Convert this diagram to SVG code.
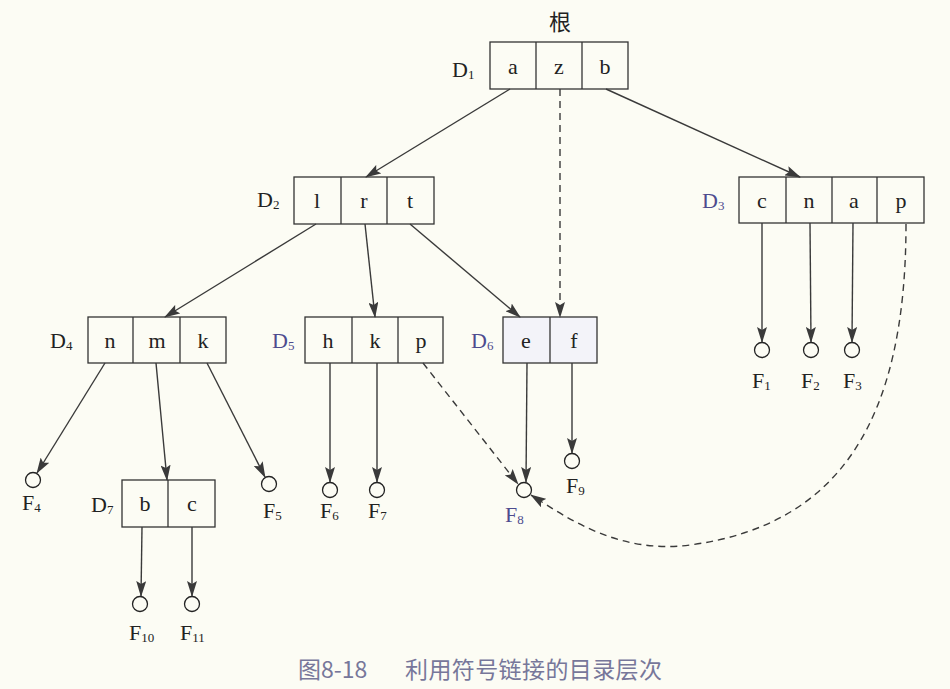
<svg xmlns="http://www.w3.org/2000/svg" width="950" height="689" viewBox="0 0 950 689">
<style>
.box{fill:none;stroke:#333;stroke-width:1.3}
.cell{font-family:"Liberation Serif",serif;font-size:22px;fill:#222;text-anchor:middle}
.lbl{font-family:"Liberation Serif",serif;font-size:22px;fill:#222}
.blue{fill:#4d4b8e}
.sub{font-size:13px}
.ln{stroke:#3a3a3a;stroke-width:1.4;fill:none;marker-end:url(#ah)}
.dash{stroke-dasharray:7,5}
.file{fill:none;stroke:#222;stroke-width:1.3}
.cap{font-family:"Noto Sans CJK SC",sans-serif;font-size:23px;fill:#77779a}
</style>
<defs>
<marker id="ah" viewBox="0 0 16 10" refX="15" refY="5" markerWidth="16" markerHeight="10" markerUnits="userSpaceOnUse" orient="auto">
<path d="M0,0 L16,5 L0,10 L3,5 Z" fill="#3a3a3a"/>
</marker>
</defs>
<rect width="950" height="689" fill="#fcfcf4"/>

<g id="root-label"><text x="560" y="30" text-anchor="middle" font-family="Noto Sans CJK SC,sans-serif" font-size="22" fill="#222">根</text></g>

<g id="D1">
<rect class="box" x="490" y="42" width="138" height="47"/>
<line class="box" x1="536" y1="42" x2="536" y2="89"/><line class="box" x1="582" y1="42" x2="582" y2="89"/>
<text class="cell" x="513" y="74">a</text><text class="cell" x="559" y="74">z</text><text class="cell" x="605" y="74">b</text>
<text class="lbl" x="452" y="77">D<tspan class="sub" dy="2">1</tspan></text>
</g>

<g id="D2">
<rect class="box" x="294" y="177" width="140" height="47"/>
<line class="box" x1="341" y1="177" x2="341" y2="224"/><line class="box" x1="387" y1="177" x2="387" y2="224"/>
<text class="cell" x="317" y="208">l</text><text class="cell" x="364" y="208">r</text><text class="cell" x="410" y="208">t</text>
<text class="lbl" x="257" y="207">D<tspan class="sub" dy="2">2</tspan></text>
</g>

<g id="D3">
<rect class="box" x="739" y="177" width="185" height="46"/>
<line class="box" x1="786" y1="177" x2="786" y2="223"/><line class="box" x1="832" y1="177" x2="832" y2="223"/><line class="box" x1="877" y1="177" x2="877" y2="223"/>
<text class="cell" x="762" y="208">c</text><text class="cell" x="809" y="208">n</text><text class="cell" x="854" y="208">a</text><text class="cell" x="901" y="208">p</text>
<text class="lbl blue" x="702" y="208">D<tspan class="sub" dy="2">3</tspan></text>
</g>

<g id="D4">
<rect class="box" x="88" y="317" width="138" height="46"/>
<line class="box" x1="133" y1="317" x2="133" y2="363"/><line class="box" x1="180" y1="317" x2="180" y2="363"/>
<text class="cell" x="110" y="348">n</text><text class="cell" x="157" y="348">m</text><text class="cell" x="203" y="348">k</text>
<text class="lbl" x="50" y="348">D<tspan class="sub" dy="2">4</tspan></text>
</g>

<g id="D5">
<rect class="box" x="305" y="317" width="138" height="46"/>
<line class="box" x1="352" y1="317" x2="352" y2="363"/><line class="box" x1="398" y1="317" x2="398" y2="363"/>
<text class="cell" x="328" y="348">h</text><text class="cell" x="375" y="348">k</text><text class="cell" x="421" y="348">p</text>
<text class="lbl blue" x="272" y="348">D<tspan class="sub" dy="2">5</tspan></text>
</g>

<g id="D6">
<rect class="box" x="503" y="317" width="94" height="46" style="fill:#f3f3f9"/>
<line class="box" x1="550" y1="317" x2="550" y2="363"/>
<text class="cell" x="526" y="348">e</text><text class="cell" x="574" y="348">f</text>
<text class="lbl blue" x="471" y="348">D<tspan class="sub" dy="2">6</tspan></text>
</g>

<g id="D7">
<rect class="box" x="122" y="480" width="93" height="47"/>
<line class="box" x1="168" y1="480" x2="168" y2="527"/>
<text class="cell" x="145" y="511">b</text><text class="cell" x="192" y="511">c</text>
<text class="lbl" x="91" y="512">D<tspan class="sub" dy="2">7</tspan></text>
</g>

<g id="F1"><circle class="file" cx="762" cy="350" r="7.5"/><text class="lbl" x="752" y="388">F<tspan class="sub" dy="2">1</tspan></text></g>
<g id="F2"><circle class="file" cx="811" cy="350" r="7.5"/><text class="lbl" x="801" y="388">F<tspan class="sub" dy="2">2</tspan></text></g>
<g id="F3"><circle class="file" cx="852" cy="350" r="7.5"/><text class="lbl" x="843" y="388">F<tspan class="sub" dy="2">3</tspan></text></g>
<g id="F4"><circle class="file" cx="33" cy="480" r="7.5"/><text class="lbl" x="22" y="510">F<tspan class="sub" dy="2">4</tspan></text></g>
<g id="F5"><circle class="file" cx="269" cy="484" r="7.5"/><text class="lbl" x="263" y="518">F<tspan class="sub" dy="2">5</tspan></text></g>
<g id="F6"><circle class="file" cx="330" cy="490" r="7.5"/><text class="lbl" x="320" y="518">F<tspan class="sub" dy="2">6</tspan></text></g>
<g id="F7"><circle class="file" cx="377" cy="490" r="7.5"/><text class="lbl" x="368" y="518">F<tspan class="sub" dy="2">7</tspan></text></g>
<g id="F8"><circle class="file" cx="524" cy="490" r="7.5"/><text class="lbl blue" x="505" y="522">F<tspan class="sub" dy="2">8</tspan></text></g>
<g id="F9"><circle class="file" cx="572" cy="461" r="7.5"/><text class="lbl" x="566" y="493">F<tspan class="sub" dy="2">9</tspan></text></g>
<g id="F10"><circle class="file" cx="140" cy="604" r="7.5"/><text class="lbl" x="129" y="640">F<tspan class="sub" dy="2">10</tspan></text></g>
<g id="F11"><circle class="file" cx="192" cy="604" r="7.5"/><text class="lbl" x="180" y="640">F<tspan class="sub" dy="2">11</tspan></text></g>

<g id="connectors">
<line class="ln" x1="510" y1="89" x2="366" y2="177"/>
<line class="ln dash" x1="560" y1="89" x2="560" y2="317"/>
<line class="ln" x1="606" y1="89" x2="800" y2="177"/>
<line class="ln" x1="316" y1="224" x2="165" y2="317"/>
<line class="ln" x1="365" y1="224" x2="375" y2="317"/>
<line class="ln" x1="410" y1="224" x2="520" y2="317"/>
<line class="ln" x1="762" y1="223" x2="762" y2="342"/>
<line class="ln" x1="810" y1="223" x2="811" y2="342"/>
<line class="ln" x1="853" y1="223" x2="852" y2="342"/>
<path class="ln dash" d="M906,224 C906,420 840,525 690,545 C620,554 570,520 531,495"/>
<line class="ln" x1="105" y1="363" x2="37" y2="473"/>
<line class="ln" x1="156" y1="363" x2="167" y2="480"/>
<line class="ln" x1="207" y1="363" x2="265" y2="477"/>
<line class="ln" x1="330" y1="363" x2="330" y2="482"/>
<line class="ln" x1="377" y1="363" x2="377" y2="482"/>
<line class="ln dash" x1="423" y1="363" x2="518" y2="484"/>
<line class="ln" x1="527" y1="363" x2="526" y2="482"/>
<line class="ln" x1="572" y1="363" x2="572" y2="453"/>
<line class="ln" x1="142" y1="527" x2="141" y2="596"/>
<line class="ln" x1="192" y1="527" x2="192" y2="596"/>
</g>

<g id="caption">
<text class="cap" x="298" y="678">图8-18</text>
<text class="cap" x="405" y="678" textLength="257">利用符号链接的目录层次</text>
</g>
</svg>
